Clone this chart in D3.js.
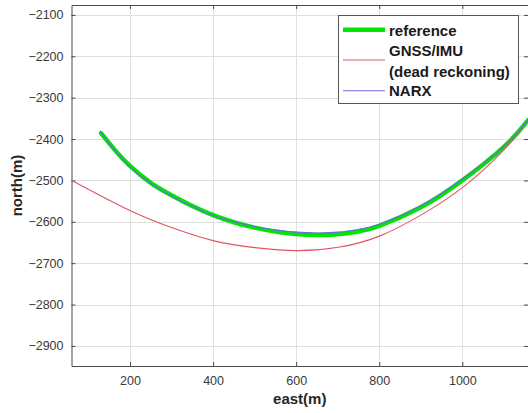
<!DOCTYPE html>
<html>
<head>
<meta charset="utf-8">
<script src="https://cdn.jsdelivr.net/npm/d3@7"></script>
<style>
  html, body { margin: 0; padding: 0; background: #fff; }
  svg { display: block; font-family: "Liberation Sans", Arial, Helvetica, sans-serif; }
</style>
</head>
<body>
<svg id="chart" width="528" height="413"></svg>
<script>
// Trajectory samples: east (m) and north (m)
const refEast   = [130.5, 165, 200, 250, 300, 350, 400, 450, 500, 550, 600, 650, 700, 750, 800, 900, 1000, 1100, 1158];
const refNorth  = [-2386, -2428, -2465, -2506, -2536, -2562, -2584, -2601, -2614, -2623.5, -2629.5, -2632, -2630, -2623.5, -2610, -2565, -2500, -2419, -2354.5];

const gnssEast  = [59.7, 200, 300, 399.8, 500.9, 602, 705.5, 801.8, 898, 1001.6, 1098.7, 1158];
const gnssNorth = [-2500, -2572.7, -2614, -2645.5, -2662.4, -2669.7, -2661, -2634, -2585, -2516.2, -2427.3, -2354.5];

const narxEast  = [128.5, 165, 200, 250, 300, 350, 400, 450, 500, 550, 600, 650, 700, 750, 800, 900, 1000, 1100, 1158];
const narxNorth = [-2381, -2429, -2467, -2508, -2538, -2563, -2585, -2600, -2612, -2620, -2625, -2627, -2625, -2618.5, -2606, -2561, -2497, -2417, -2354];

const xTicks = [200, 400, 600, 800, 1000];
const yTicks = [-2900, -2800, -2700, -2600, -2500, -2400, -2300, -2200, -2100];

const seriesNames = ["reference", "GNSS/IMU\n(dead reckoning)", "NARX"];

(function () {
const svg = d3.select("#chart");
const pLeft = 71.5, pRight = 528, pTop = 5, pBottom = 366;

const x = d3.scaleLinear().domain([59.2, 1158]).range([pLeft, pRight]);
const y = d3.scaleLinear().domain([-2948.5, -2076]).range([pBottom, pTop]);
const fmt = d3.format("d");

// grid
const grid = svg.append("g").attr("stroke", "#e0e0e0").attr("stroke-width", 1);
xTicks.forEach(t => grid.append("line")
  .attr("x1", Math.round(x(t)) + 0.5).attr("x2", Math.round(x(t)) + 0.5)
  .attr("y1", pTop).attr("y2", pBottom));
yTicks.forEach(t => grid.append("line")
  .attr("x1", pLeft).attr("x2", pRight)
  .attr("y1", Math.round(y(t)) + 0.5).attr("y2", Math.round(y(t)) + 0.5));

// axes (ticks point inward)
const axisColor = "#4a4a4a";
function styleAxis(g, showLabels) {
  g.select(".domain").attr("stroke", axisColor);
  g.selectAll(".tick line").attr("stroke", axisColor);
  g.selectAll(".tick text").attr("fill", "#3a3a3a").attr("font-size", "12.5px")
    .style("display", showLabels ? null : "none");
}
svg.append("g").attr("transform", `translate(0,${pBottom})`)
  .call(d3.axisBottom(x).tickValues(xTicks).tickFormat(fmt).tickSize(-4).tickSizeOuter(0).tickPadding(10))
  .call(g => styleAxis(g, true));
svg.append("g").attr("transform", `translate(${pLeft},0)`)
  .call(d3.axisLeft(y).tickValues(yTicks).tickFormat(fmt).tickSize(-4).tickSizeOuter(0).tickPadding(8))
  .call(g => styleAxis(g, true));
svg.append("g").attr("transform", `translate(0,${pTop})`)
  .call(d3.axisTop(x).tickValues(xTicks).tickSize(-4).tickSizeOuter(0))
  .call(g => styleAxis(g, false));
svg.append("g").attr("transform", `translate(${pRight},0)`)
  .call(d3.axisRight(y).tickValues(yTicks).tickSize(-4).tickSizeOuter(0))
  .call(g => styleAxis(g, false));

// trajectories
const line = d3.line().x(d => x(d[0])).y(d => y(d[1])).curve(d3.curveNatural);
const zip = (a, b) => a.map((v, i) => [v, b[i]]);
const plot = svg.append("g").attr("fill", "none").attr("stroke-linecap", "round");
plot.append("path").attr("d", line(zip(refEast, refNorth)))
  .attr("stroke", "#00e600").attr("stroke-width", 4.5);
plot.append("path").attr("d", line(zip(gnssEast, gnssNorth)))
  .attr("stroke", "#e05565").attr("stroke-width", 1.1);
plot.append("path").attr("d", line(zip(narxEast, narxNorth)))
  .attr("stroke", "#6a6ae8").attr("stroke-width", 1.1);

// axis titles
svg.append("text").attr("x", (pLeft + pRight) / 2).attr("y", 404)
  .attr("text-anchor", "middle").attr("font-size", "15px").attr("font-weight", "bold")
  .attr("fill", "#262626").text("east(m)");
svg.append("text").attr("transform", `translate(22,${(pTop + pBottom) / 2}) rotate(-90)`)
  .attr("text-anchor", "middle").attr("font-size", "15px").attr("font-weight", "bold")
  .attr("fill", "#262626").text("north(m)");

// legend
const lg = svg.append("g");
lg.append("rect").attr("x", 338.5).attr("y", 15.5).attr("width", 180).attr("height", 88)
  .attr("fill", "#fff").attr("stroke", "#555").attr("stroke-width", 1);
const legendItems = [
  { name: seriesNames[0], color: "#00e600", w: 4.5, ly: 29.7, ty: [36] },
  { name: seriesNames[1], color: "#e05565", w: 1.1, ly: 60, ty: [55.5, 77] },
  { name: seriesNames[2], color: "#6a6ae8", w: 1.1, ly: 90.7, ty: [96] }
];
legendItems.forEach(it => {
  lg.append("line").attr("x1", 343).attr("x2", 385).attr("y1", it.ly).attr("y2", it.ly)
    .attr("stroke", it.color).attr("stroke-width", it.w);
  it.name.split("\n").forEach((s, i) => {
    lg.append("text").attr("x", 389).attr("y", it.ty[i]).attr("font-size", "15px")
      .attr("font-weight", "bold").attr("fill", "#1a1a1a").text(s);
  });
});
})();
</script>
</body>
</html>
